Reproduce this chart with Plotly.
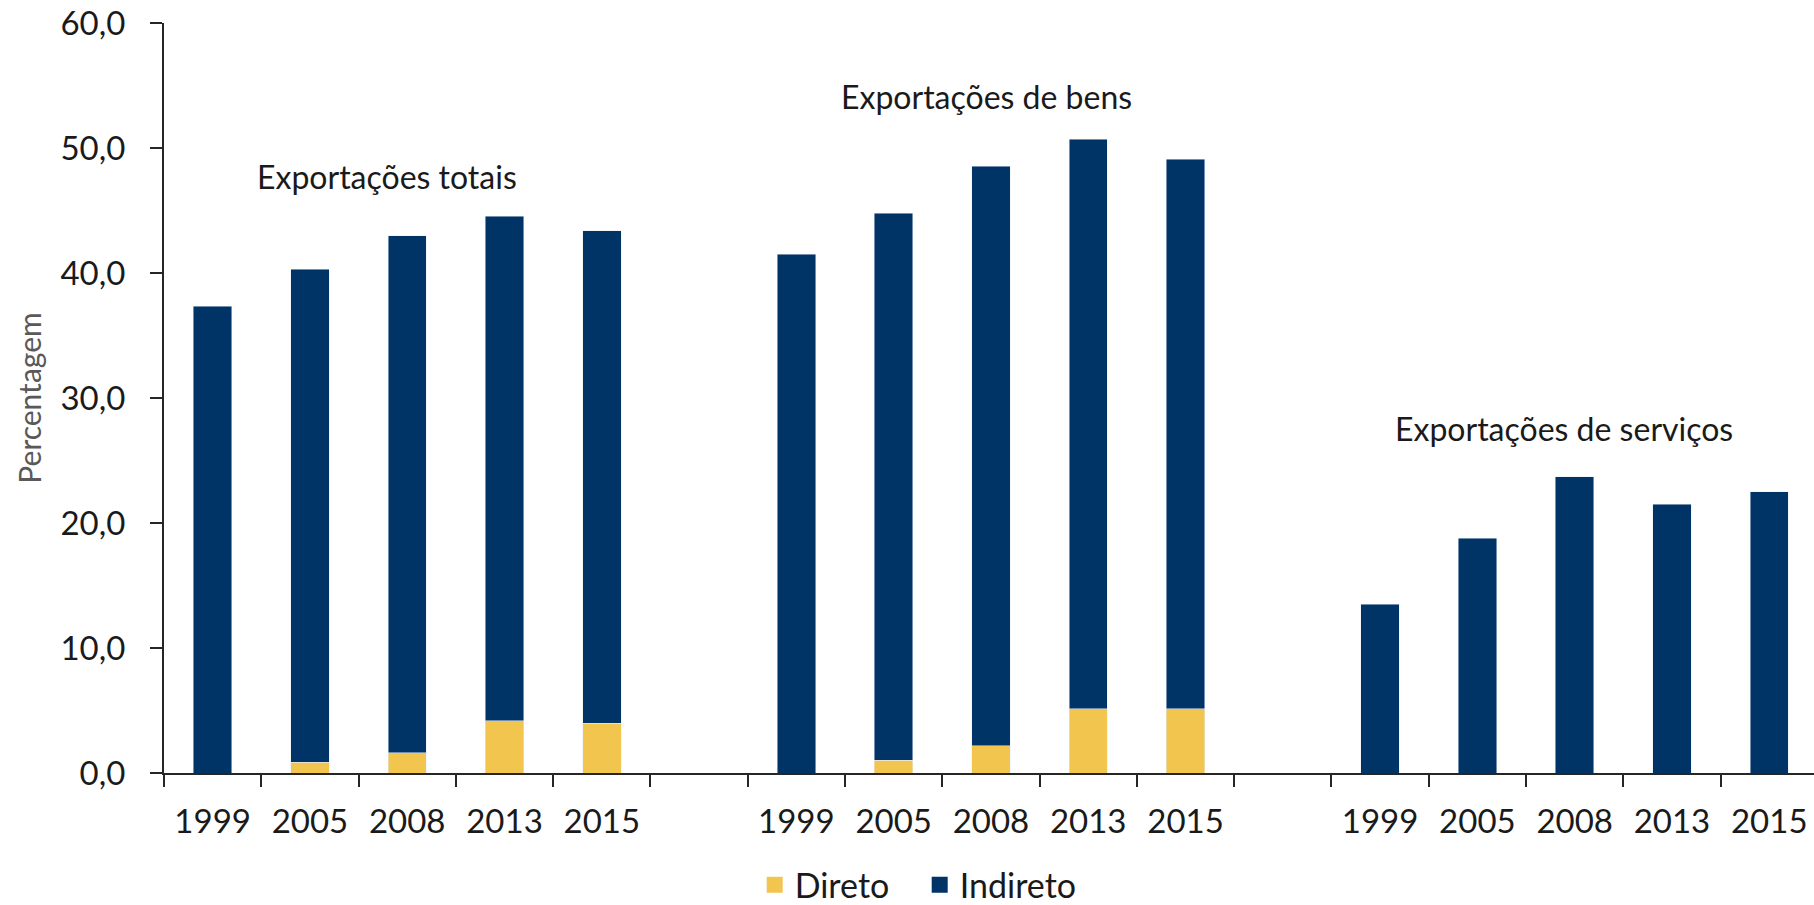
import plotly.graph_objects as go

# ---- data ----
anos = ["1999", "2005", "2008", "2013", "2015"]
grupos = ["Exportações totais", "Exportações de bens", "Exportações de serviços"]

direto_totais = [0.0, 0.86, 1.63, 4.17, 3.98]
indireto_totais = [37.35, 39.44, 41.37, 40.38, 39.42]

direto_bens = [0.0, 1.04, 2.2, 5.15, 5.15]
indireto_bens = [41.5, 43.76, 46.35, 45.55, 43.95]

direto_servicos = [0.0, 0.0, 0.0, 0.0, 0.0]
indireto_servicos = [13.5, 18.8, 23.7, 21.5, 22.5]

series_direto = [direto_totais, direto_bens, direto_servicos]
series_indireto = [indireto_totais, indireto_bens, indireto_servicos]

# ---- category layout: 5 years per group, one empty slot between groups ----
keys, ticktext, xd, yd, xi, yi = [], [], [], [], [], []
for g in range(len(grupos)):
    for j, a in enumerate(anos):
        k = f"g{g}_{a}"
        keys.append(k)
        ticktext.append(a)
        xd.append(k); yd.append(series_direto[g][j])
        xi.append(k); yi.append(series_indireto[g][j])
    if g < len(grupos) - 1:
        k = f"gap{g}"
        keys.append(k)
        ticktext.append("")

FONT = "Lato, 'Open Sans', sans-serif"
NAVY = "#003366"
GOLD = "#F2C54E"
AXIS = "#262626"

fig = go.Figure()
fig.add_trace(go.Bar(x=xd, y=yd, name="Direto", marker_color=GOLD,
                     showlegend=False, legendgroup="d"))
fig.add_trace(go.Bar(x=xi, y=yi, name="Indireto", marker_color=NAVY,
                     showlegend=False, legendgroup="i"))
# legend entries with larger square swatches
fig.add_trace(go.Scatter(x=[None], y=[None], mode="markers", name="Direto",
                         legendgroup="d",
                         marker=dict(symbol="square", size=20, color=GOLD)))
fig.add_trace(go.Scatter(x=[None], y=[None], mode="markers", name="Indireto",
                         legendgroup="i",
                         marker=dict(symbol="square", size=20, color=NAVY)))

# group labels: (x position in category units, y position in data units)
label_pos = [(1.79, 47.7), (7.95, 54.1), (13.89, 27.6)]
for txt, (lx, ly) in zip(grupos, label_pos):
    fig.add_annotation(x=lx, y=ly, xref="x", yref="y", text=txt, showarrow=False,
                       font=dict(family=FONT, size=32, color="#1a1a1a"),
                       xanchor="center", yanchor="middle")

fig.update_layout(
    width=1814, height=905,
    barmode="stack", bargap=0.605,
    plot_bgcolor="white", paper_bgcolor="white",
    margin=dict(l=164, r=0, t=23, b=132, autoexpand=False),
    separators=", ",
    font=dict(family=FONT, size=33, color="#1a1a1a"),
    legend=dict(orientation="h", xref="container", yref="container",
                x=0.507, xanchor="center", y=0.022, yanchor="middle",
                font=dict(family=FONT, size=34, color="#1a1a1a"),
                traceorder="normal", itemsizing="trace", itemwidth=30,
                entrywidth=120, entrywidthmode="pixels"),
    showlegend=True,
)
fig.update_xaxes(
    type="category", categoryorder="array", categoryarray=keys,
    tickmode="array", tickvals=keys, ticktext=ticktext,
    tickson="boundaries", ticks="outside", ticklen=12, tickwidth=2, tickcolor=AXIS,
    showline=True, linecolor=AXIS, linewidth=2, showgrid=False, zeroline=False,
    range=[-0.5, 16.46], ticklabelstandoff=18, automargin=False,
    ticklabeloverflow="allow",
    tickfont=dict(family=FONT, size=33, color="#1a1a1a"),
)
fig.update_yaxes(
    range=[0, 60], dtick=10, tick0=0, tickformat=".1f",
    ticks="outside", ticklen=12, tickwidth=2, tickcolor=AXIS,
    showline=True, linecolor=AXIS, linewidth=2, showgrid=False, zeroline=False,
    ticklabelstandoff=18, automargin=False, ticklabeloverflow="allow",
    tickfont=dict(family=FONT, size=33, color="#1a1a1a"),
    title=dict(text="Percentagem", font=dict(family=FONT, size=30, color="#595959"), standoff=10),
)

fig.write_html("out.html",
               config={"displayModeBar": False},
               post_script="document.body.style.margin='0';document.body.style.overflow='hidden';")
